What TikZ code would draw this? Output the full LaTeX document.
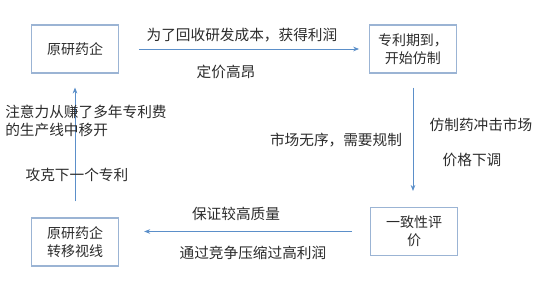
\documentclass[tikz,border=0pt]{standalone}
\usepackage{fontspec}
\setmainfont{Noto Sans CJK SC}
\usetikzlibrary{positioning,arrows.meta}
\definecolor{BoxLine}{HTML}{9BB4D4}
\definecolor{FlowBlue}{HTML}{5B8FC9}
\definecolor{TextGray}{HTML}{2B2B2B}

\begin{document}
\begin{tikzpicture}[x=0.75pt,y=-0.75pt,
  box/.style={draw=BoxLine, line width=0.8pt, minimum width=65pt, minimum height=36pt, align=center, font=\fontsize{10.5}{13.5}\selectfont, text=TextGray},
  lbl/.style={font=\fontsize{11}{13.5}\selectfont, text=TextGray, inner sep=0pt},
  flow/.style={draw=FlowBlue, line width=0.6pt, -{Stealth[length=4.5pt,width=3.5pt]}}]
  \useasboundingbox (0,0) rectangle (544,281);
  % the four stages
  \node[box] (orig) at (75,49) {原研药企};
  \node[box] (expire) at (413,49) {专利期到，\\开始仿制};
  \node[box] (eval) at (414,231.5) {一致性评\\价};
  \node[box] (shift) at (75,242) {原研药企\\转移视线};
  % connectors
  \draw[flow, shorten <=15pt, shorten >=7.5pt] (orig) -- (expire);
  \draw[flow, shorten <=10.5pt, shorten >=12pt] (expire.south) -- (expire.south |- eval.north);
  \draw[flow, shorten <=13.5pt, shorten >=19pt] (eval.west) -- (eval.west -| shift.east);
  \draw[flow, shorten <=12pt, shorten >=10.5pt] (shift.north) -- (orig.south);
  % labels
  \foreach \nm/\px/\py/\txt in {recoup/242/35/为了回收研发成本，获得利润, price/226/72/定价高昂,
      impact/481/125/仿制药冲击市场, cut/472/160/价格下调, disorder/336/140/市场无序，需要规制,
      quality/236/214/保证较高质量, squeeze/253/253/通过竞争压缩过高利润, next/77/175/攻克下一个专利}{
    \node[lbl] (\nm) at (\px,\py) {\txt};
  }
  \node[lbl, anchor=west, align=left] (away) at (5,121) {注意力从赚了多年专利费\\的生产线中移开};
\end{tikzpicture}
\end{document}
